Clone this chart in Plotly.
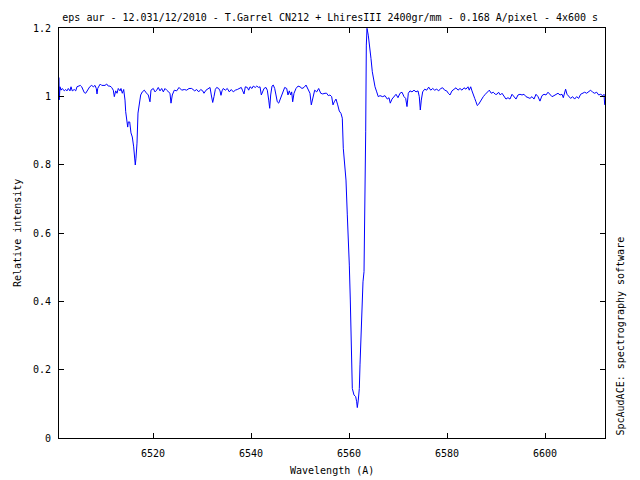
import plotly.graph_objects as go

# Spectrum, split into wavelength segments (Angstrom, relative intensity)
wl_a = [6500.80, 6500.86, 6501.00, 6501.21, 6501.47, 6501.88, 6502.17, 6502.43, 6502.70, 6503.04,
        6503.25, 6503.51, 6503.92, 6504.21, 6504.47, 6504.74, 6505.15, 6505.43, 6505.70, 6505.96,
        6506.25, 6506.51, 6506.78, 6507.07, 6507.47, 6507.80, 6508.15, 6508.41, 6508.56, 6508.70,
        6508.96, 6509.23, 6509.51, 6510.19, 6510.53, 6510.86, 6511.21, 6511.55, 6511.88, 6512.09,
        6512.37, 6512.64, 6512.90, 6513.25, 6513.45, 6513.72, 6514.00, 6514.27, 6514.41, 6514.62,
        6514.82, 6514.94, 6515.23, 6515.49, 6515.76, 6516.04, 6516.25, 6516.37, 6516.51, 6516.72,
        6516.92, 6517.19, 6517.47, 6517.80, 6518.21, 6518.62, 6519.02, 6519.37, 6519.57, 6520.04,
        6520.39, 6520.74, 6521.06, 6521.41, 6521.76, 6522.09, 6522.43, 6522.78, 6523.11, 6523.45,
        6523.66, 6523.92, 6524.33, 6524.82, 6525.29, 6525.84, 6526.37, 6526.86, 6527.33, 6527.88]
int_a = [1.055, 0.990, 1.028, 1.018, 1.023, 1.016, 1.020, 1.016, 1.023, 1.016,
         1.028, 1.016, 1.020, 1.016, 1.028, 1.030, 1.032, 1.028, 1.016, 1.011,
         1.009, 1.016, 1.023, 1.028, 1.032, 1.028, 1.032, 1.023, 1.007, 1.023,
         1.030, 1.036, 1.032, 1.032, 1.036, 1.030, 1.030, 1.026, 1.018, 0.999,
         1.016, 1.009, 1.023, 1.016, 1.023, 1.009, 1.020, 0.989, 0.955, 0.919,
         0.910, 0.925, 0.925, 0.893, 0.881, 0.852, 0.819, 0.799, 0.819, 0.863,
         0.951, 0.983, 1.004, 1.013, 1.018, 1.010, 1.004, 0.984, 1.018, 1.023,
         1.013, 1.018, 1.026, 1.016, 1.023, 1.013, 1.023, 1.018, 1.013, 1.009,
         0.980, 1.004, 1.018, 1.016, 1.026, 1.018, 1.020, 1.018, 1.023, 1.023]

wl_b = [6528.49, 6528.90, 6529.31, 6529.72, 6530.13, 6530.39, 6530.80, 6531.21, 6531.62, 6531.88,
        6532.17, 6532.43, 6532.70, 6532.98, 6533.39, 6533.66, 6533.86, 6534.07, 6534.33, 6534.74,
        6535.15, 6535.56, 6535.96, 6536.37, 6536.78, 6537.19, 6537.60, 6538.00, 6538.29, 6538.56,
        6538.82, 6539.23, 6539.51, 6539.78, 6540.19, 6540.45, 6540.86, 6541.15, 6541.55, 6541.82,
        6542.09, 6542.37, 6542.64, 6543.04, 6543.31, 6543.60, 6543.80, 6544.00, 6544.27, 6544.53,
        6544.82, 6545.08, 6545.35, 6545.64, 6546.04, 6546.45, 6546.86, 6547.27, 6547.53, 6547.80,
        6548.09, 6548.29, 6548.49, 6548.76, 6549.17, 6549.58, 6549.98, 6550.39, 6550.80, 6551.21,
        6551.62, 6552.02, 6552.29, 6552.58, 6552.98, 6553.39, 6553.80, 6554.21, 6554.62, 6555.09]
int_b = [1.016, 1.020, 1.013, 1.020, 1.016, 1.009, 1.018, 1.023, 1.026, 1.004,
         0.982, 0.999, 1.020, 1.026, 1.023, 1.016, 1.003, 1.016, 1.023, 1.018,
         1.023, 1.013, 1.020, 1.013, 1.018, 1.020, 1.023, 1.026, 1.016, 1.007,
         1.028, 1.026, 1.018, 1.028, 1.023, 1.030, 1.026, 1.030, 1.026, 1.028,
         1.004, 1.016, 1.023, 1.026, 1.018, 0.989, 0.965, 1.004, 1.030, 1.033,
         1.023, 1.004, 0.984, 0.980, 0.994, 1.013, 1.026, 1.023, 1.004, 1.016,
         1.004, 1.013, 0.984, 1.009, 1.023, 1.030, 1.028, 1.023, 1.026, 1.033,
         1.023, 1.009, 0.975, 0.994, 1.018, 1.013, 1.023, 1.009, 1.007, 1.009]

wl_c = [6555.43, 6555.76, 6556.10, 6556.45, 6556.72, 6556.98, 6557.33, 6557.68, 6558.00, 6558.35,
        6558.62, 6558.82, 6559.17, 6559.37, 6559.64, 6559.84, 6560.05, 6560.25, 6560.46, 6560.66,
        6561.00, 6561.35, 6561.55, 6561.68, 6561.88, 6562.09, 6562.23, 6562.43, 6562.64, 6562.84,
        6563.05, 6563.25, 6563.39, 6563.52, 6563.66, 6563.92, 6564.21, 6564.47, 6564.74, 6565.02,
        6565.29, 6565.64, 6565.96, 6566.31]
int_c = [1.009, 1.002, 1.004, 0.999, 0.975, 0.984, 0.992, 0.975, 0.957, 0.950,
         0.936, 0.848, 0.799, 0.755, 0.653, 0.589, 0.506, 0.404, 0.296, 0.145,
         0.126, 0.121, 0.106, 0.089, 0.111, 0.145, 0.214, 0.296, 0.370, 0.457,
         0.487, 0.662, 0.896, 1.150, 1.199, 1.179, 1.150, 1.111, 1.072, 1.048,
         1.028, 1.013, 0.999, 1.002]

wl_d = [6566.86, 6567.33, 6567.80, 6568.15, 6568.41, 6568.76, 6569.17, 6569.58, 6569.98, 6570.39,
        6570.80, 6571.21, 6571.55, 6571.82, 6572.09, 6572.43, 6572.84, 6573.25, 6573.66, 6574.07,
        6574.33, 6574.54, 6574.74, 6575.02, 6575.43, 6575.84, 6576.25, 6576.66, 6577.07, 6577.47,
        6577.88, 6578.29, 6578.70, 6579.11, 6579.51, 6579.92, 6580.25, 6580.60, 6581.00, 6581.41,
        6581.82, 6582.23, 6582.64, 6583.04, 6583.45, 6583.86, 6584.27, 6584.53, 6584.82, 6585.08,
        6585.35, 6585.64, 6585.90, 6586.17, 6586.45, 6586.72, 6587.07, 6587.39, 6587.80, 6588.21,
        6588.62, 6589.02, 6589.43, 6589.84]
int_d = [0.999, 1.002, 0.992, 0.996, 0.980, 0.992, 0.999, 1.006, 0.996, 1.009,
         1.012, 0.999, 0.994, 0.970, 1.009, 1.016, 1.013, 1.018, 1.013, 1.016,
         0.999, 0.960, 0.989, 1.013, 1.021, 1.018, 1.027, 1.018, 1.023, 1.018,
         1.021, 1.016, 1.023, 1.025, 1.018, 1.016, 1.009, 1.004, 1.016, 1.021,
         1.025, 1.018, 1.023, 1.018, 1.025, 1.021, 1.028, 1.018, 1.028, 1.016,
         1.002, 0.994, 0.984, 0.973, 0.977, 0.984, 0.992, 0.999, 1.006, 1.013,
         1.018, 1.009, 1.012, 1.006]

wl_e = [6590.17, 6590.51, 6590.86, 6591.21, 6591.62, 6592.02, 6592.43, 6592.84, 6593.25, 6593.66,
        6594.07, 6594.47, 6594.88, 6595.29, 6595.70, 6596.11, 6596.51, 6596.92, 6597.33, 6597.74,
        6598.15, 6598.56, 6598.96, 6599.37, 6599.78, 6600.19, 6600.60, 6601.01, 6601.42, 6601.82,
        6602.23, 6602.64, 6603.05, 6603.46, 6603.72, 6603.99, 6604.19, 6604.48, 6604.81, 6605.21,
        6605.62, 6606.03, 6606.44, 6606.85, 6607.26, 6607.67, 6608.08, 6608.48, 6608.89, 6609.30,
        6609.71, 6610.12, 6610.53, 6610.94, 6611.35, 6611.76, 6612.04, 6612.16]
int_e = [1.006, 1.012, 1.004, 1.009, 0.999, 0.992, 0.996, 0.992, 1.006, 0.999,
         0.992, 1.004, 1.006, 1.004, 1.006, 0.999, 0.996, 0.994, 0.999, 0.992,
         1.006, 0.999, 0.986, 1.002, 1.006, 1.004, 1.012, 1.006, 0.999, 1.002,
         1.006, 1.009, 1.004, 1.006, 0.996, 1.016, 1.021, 1.006, 0.999, 0.994,
         0.999, 0.992, 0.999, 0.994, 1.006, 1.009, 1.012, 1.009, 1.013, 1.018,
         1.012, 1.009, 1.012, 1.004, 1.006, 1.002, 1.006, 0.975]

x_ticks = [6520, 6540, 6560, 6580, 6600]
y_ticks = [0, 0.2, 0.4, 0.6, 0.8, 1, 1.2]
y_tick_labels = ["0", "0.2", "0.4", "0.6", "0.8", "1", "1.2"]

title_text = "eps aur - 12.031/12/2010 - T.Garrel CN212 + LhiresIII 2400gr/mm - 0.168 A/pixel - 4x600 s"

wavelength = wl_a + wl_b + wl_c + wl_d + wl_e
intensity = int_a + int_b + int_c + int_d + int_e

FONT = "DejaVu Sans Mono"

fig = go.Figure()
fig.add_trace(go.Scatter(x=wavelength, y=intensity, mode="lines",
                         line=dict(color="#0000ff", width=1), showlegend=False,
                         hoverinfo="skip"))

axis_common = dict(showline=True, linecolor="black", linewidth=1, mirror="ticks",
                   ticks="inside", ticklen=5, tickcolor="black", tickwidth=1,
                   showgrid=False, zeroline=False,
                   tickfont=dict(family=FONT, size=10, color="black"))

fig.update_xaxes(range=[6500.8, 6612.23], tickvals=x_ticks, ticklabelstandoff=6, **axis_common)
fig.update_yaxes(range=[0, 1.2], tickvals=y_ticks, ticktext=y_tick_labels, ticklabelstandoff=5,
                 **axis_common)

fig.update_layout(
    width=640, height=480,
    margin=dict(l=59, r=35, t=28, b=42, pad=0),
    paper_bgcolor="white", plot_bgcolor="white",
    font=dict(family=FONT, size=10, color="black"),
    title=dict(text=title_text, x=0.516, xref="container", xanchor="center",
               y=1 - 17 / 480, yref="container", yanchor="middle",
               font=dict(family=FONT, size=10, color="black")),
    annotations=[
        dict(text="Wavelength (A)", xref="paper", yref="paper", x=0.5, y=-32 / 410,
             xanchor="center", yanchor="middle", showarrow=False,
             font=dict(family=FONT, size=10, color="black")),
        dict(text="Relative intensity", xref="paper", yref="paper", x=-42 / 546, y=0.5,
             xanchor="center", yanchor="middle", textangle=-90, showarrow=False,
             font=dict(family=FONT, size=10, color="black")),
        dict(text="SpcAudACE: spectrography software", xref="paper", yref="paper",
             x=1 + 15 / 546, y=0.0, xanchor="center", yanchor="bottom", textangle=-90,
             showarrow=False, font=dict(family=FONT, size=10, color="black")),
    ],
)

fig.write_html("out.html", config={"displayModeBar": False},
               post_script="document.body.style.margin='0px';document.body.style.padding='0px';")
